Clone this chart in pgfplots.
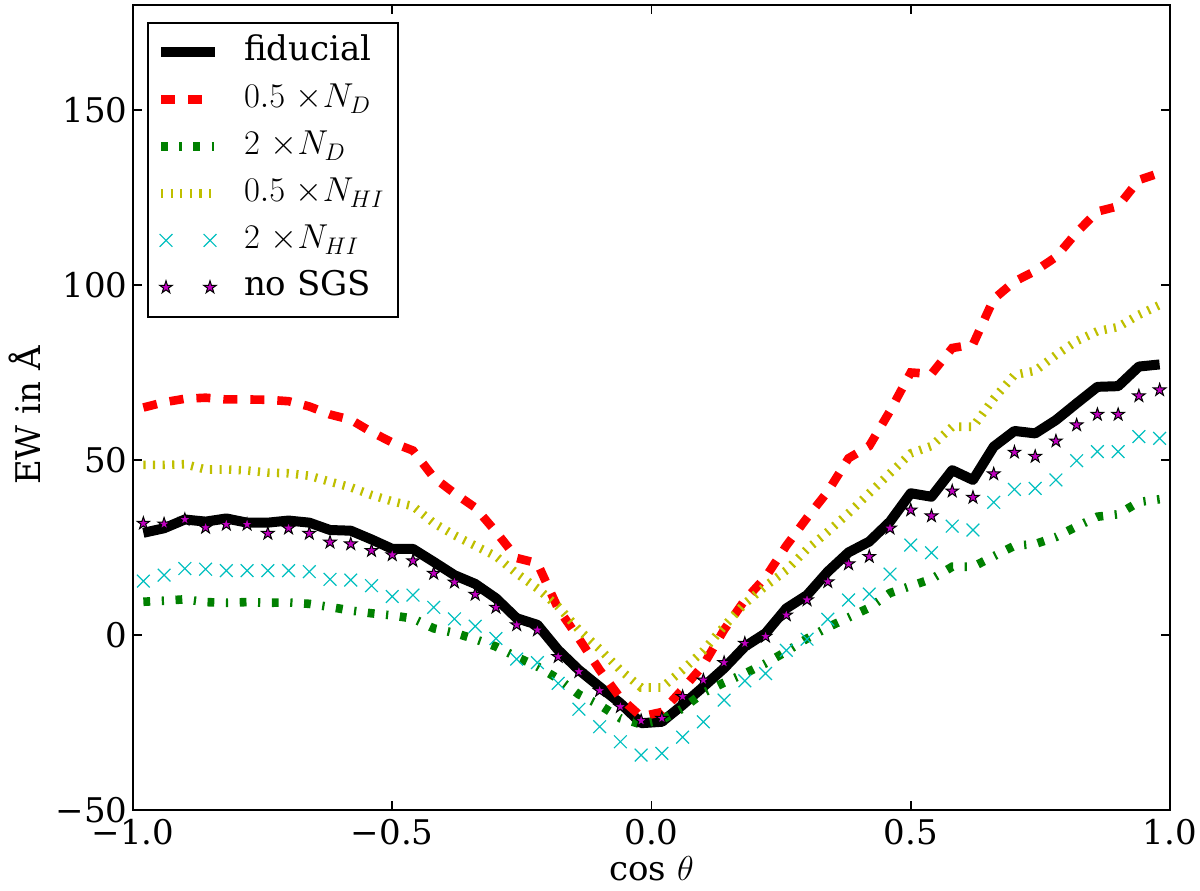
\documentclass[border=0pt]{standalone}
\usepackage{pgfplots}
\usepackage{pgfplotstable}
\pgfplotsset{compat=1.18}
\usepackage{fontspec}
\setmainfont{DejaVu Serif}
\definecolor{mplc}{rgb}{0,0.75,0.75}
\definecolor{mplm}{rgb}{0.75,0,0.75}
\definecolor{mply}{rgb}{0.75,0.75,0}
\definecolor{mplg}{rgb}{0,0.5,0}
\pgfdeclareplotmark{fstar}{%
\pgfpathmoveto{\pgfpointpolar{90}{\pgfplotmarksize}}%
\pgfpathlineto{\pgfpointpolar{126}{0.382\pgfplotmarksize}}%
\pgfpathlineto{\pgfpointpolar{162}{\pgfplotmarksize}}%
\pgfpathlineto{\pgfpointpolar{198}{0.382\pgfplotmarksize}}%
\pgfpathlineto{\pgfpointpolar{234}{\pgfplotmarksize}}%
\pgfpathlineto{\pgfpointpolar{270}{0.382\pgfplotmarksize}}%
\pgfpathlineto{\pgfpointpolar{306}{\pgfplotmarksize}}%
\pgfpathlineto{\pgfpointpolar{342}{0.382\pgfplotmarksize}}%
\pgfpathlineto{\pgfpointpolar{18}{\pgfplotmarksize}}%
\pgfpathlineto{\pgfpointpolar{54}{0.382\pgfplotmarksize}}%
\pgfpathclose\pgfusepathqfillstroke}
\pgfplotsset{
  linelegend/.style={legend image code/.code={\draw[##1] (0pt,0pt) -- (27pt,0pt);}},
  marklegend/.style={legend image code/.code={\draw[##1] plot coordinates {(2.5pt,0pt) (24.5pt,0pt)};}},
}
\pgfplotstableread{
x fid red green yel cyan star
-0.98 29.2 65.0 9.5 48.6 15.4 31.9
-0.94 30.5 66.5 9.8 48.6 17.1 31.7
-0.90 33.0 67.5 10.2 48.8 19.0 33.0
-0.86 32.4 67.8 9.4 47.3 18.8 30.7
-0.82 33.3 67.3 9.2 47.3 18.4 31.6
-0.78 32.1 67.3 9.4 47.0 18.4 31.6
-0.74 32.1 67.2 9.2 46.4 18.4 29.0
-0.70 32.7 66.8 9.3 46.2 18.4 30.5
-0.66 32.1 65.3 8.9 45.5 18.1 29.0
-0.62 30.0 63.0 8.0 43.8 15.9 26.5
-0.58 29.8 61.5 7.0 42.2 15.7 26.0
-0.54 27.3 58.0 6.2 40.0 14.1 24.1
-0.50 24.6 55.0 5.6 38.2 11.0 22.9
-0.46 24.6 52.7 4.7 36.8 11.4 21.2
-0.42 20.9 45.0 1.9 32.0 7.9 17.6
-0.38 17.1 40.5 0.6 28.5 4.6 15.1
-0.34 14.6 36.4 -1.2 25.5 2.5 11.6
-0.30 10.5 29.5 -3.3 22.5 -1.0 7.9
-0.26 4.8 22.0 -6.3 17.6 -6.9 2.9
-0.22 2.9 20.5 -9.0 13.3 -7.9 1.4
-0.18 -4.3 7.5 -12.5 8.1 -13.8 -6.2
-0.14 -10.0 -1.0 -17.0 1.5 -21.2 -10.5
-0.10 -14.8 -10.0 -20.0 -4.0 -26.2 -15.9
-0.06 -19.5 -18.0 -23.8 -10.0 -30.5 -20.5
-0.02 -25.2 -23.3 -25.5 -15.0 -34.3 -24.5
0.02 -24.8 -22.0 -24.2 -15.0 -33.8 -23.8
0.06 -20.0 -15.5 -21.0 -10.0 -29.2 -17.6
0.10 -14.8 -8.6 -16.5 -4.5 -24.8 -12.9
0.14 -9.5 1.5 -13.6 2.5 -18.6 -7.9
0.18 -3.3 10.0 -11.0 9.0 -13.1 -2.4
0.22 0.5 16.5 -8.1 14.0 -11.0 -0.4
0.26 7.6 25.5 -4.7 18.5 -4.4 5.7
0.30 11.4 33.5 -1.0 24.5 -1.2 10.0
0.34 18.1 41.0 2.2 29.5 4.5 15.2
0.38 23.6 50.5 5.0 34.8 10.0 20.3
0.42 26.7 54.0 7.8 40.5 11.7 22.4
0.46 32.4 64.0 12.0 46.2 17.4 30.5
0.50 40.5 75.0 14.0 51.9 25.7 35.7
0.54 39.5 74.6 16.0 54.0 23.5 34.0
0.58 47.1 82.0 19.5 59.5 31.1 41.1
0.62 44.3 83.0 19.5 59.5 30.0 39.3
0.66 53.8 96.0 22.5 67.5 37.9 46.0
0.70 58.3 101.0 25.5 74.3 41.6 52.2
0.74 57.6 104.0 26.0 75.5 41.9 51.0
0.78 61.4 108.0 28.0 80.0 44.3 55.4
0.82 66.2 115.0 31.0 84.0 49.8 60.0
0.86 70.9 121.0 33.8 86.8 52.4 63.0
0.90 71.1 122.5 34.5 88.0 52.4 63.0
0.94 76.7 130.0 38.0 91.5 56.7 68.3
0.98 77.3 132.0 38.8 94.3 56.2 70.0
}\data
\begin{document}
\begin{tikzpicture}
\begin{axis}[
  at={(0pt,0pt)}, anchor=south west,
  scale only axis, width=518.5pt, height=402.5pt,
  xmin=-1, xmax=1, ymin=-50, ymax=180,
  xtick={-1,-0.5,0,0.5,1},
  xticklabels={−1.0,−0.5,0.0,0.5,1.0},
  ytick={-50,0,50,100,150},
  yticklabels={−50,0,50,100,150},
  tick align=inside, tick pos=both,
  major tick length=4.7pt,
  every tick/.style={black, line width=0.8pt},
  axis line style={line width=1.2pt},
  ticklabel style={font=\fontsize{17}{20}\selectfont},
  yticklabel style={inner xsep=2.5pt},
  xticklabel style={inner ysep=4.5pt},
  xlabel={cos $\theta$},
  ylabel={EW in Å},
  label style={font=\fontsize{17}{20}\selectfont},
  xlabel style={at={(axis description cs:0.5,-0.088)}, anchor=base},
  ylabel style={at={(axis description cs:-0.104,0.49)}, anchor=center},
  legend cell align=left,
  legend style={at={(axis description cs:0.0135,0.979)}, anchor=north west,
    draw=black, line width=1pt, fill=white,
    font=\fontsize{17}{20}\selectfont,
    inner xsep=4pt, inner ysep=3pt,
    row sep=0pt,
    nodes={inner sep=3pt, text height=13pt, text depth=4.5pt},
    /tikz/every odd column/.append style={column sep=9pt}},
]
\addplot[black, line width=5pt, line join=round, linelegend]
  table[x=x,y=fid]{\data};
\addlegendentry{fiducial}
\addplot[red, line width=4.3pt, dash pattern=on 7pt off 6.5pt, linelegend]
  table[x=x,y=red]{\data};
\addlegendentry{$0.5\ {\times}N_D$}
\addplot[mplg, line width=4.3pt, dash pattern=on 3.4pt off 5.8pt on 1.1pt off 5.8pt, linelegend]
  table[x=x,y=green]{\data};
\addlegendentry{$2\ {\times}N_D$}
\addplot[mply, line width=4.3pt, dash pattern=on 1.1pt off 3.7pt, linelegend]
  table[x=x,y=yel]{\data};
\addlegendentry{$0.5\ {\times}N_{HI}$}
\addplot[mplc, only marks, mark=x, mark size=4.5pt, line width=0.6pt, marklegend]
  table[x=x,y=cyan]{\data};
\addlegendentry{$2\ {\times}N_{HI}$}
\addplot[black, fill=mplm, only marks, mark=fstar, mark size=3.3pt, line width=0.5pt, marklegend]
  table[x=x,y=star]{\data};
\addlegendentry{no SGS}
\end{axis}
\pgfresetboundingbox
\path[use as bounding box] (-66.5pt,-40pt) rectangle (533.5pt,405pt);
\end{tikzpicture}
\end{document}
